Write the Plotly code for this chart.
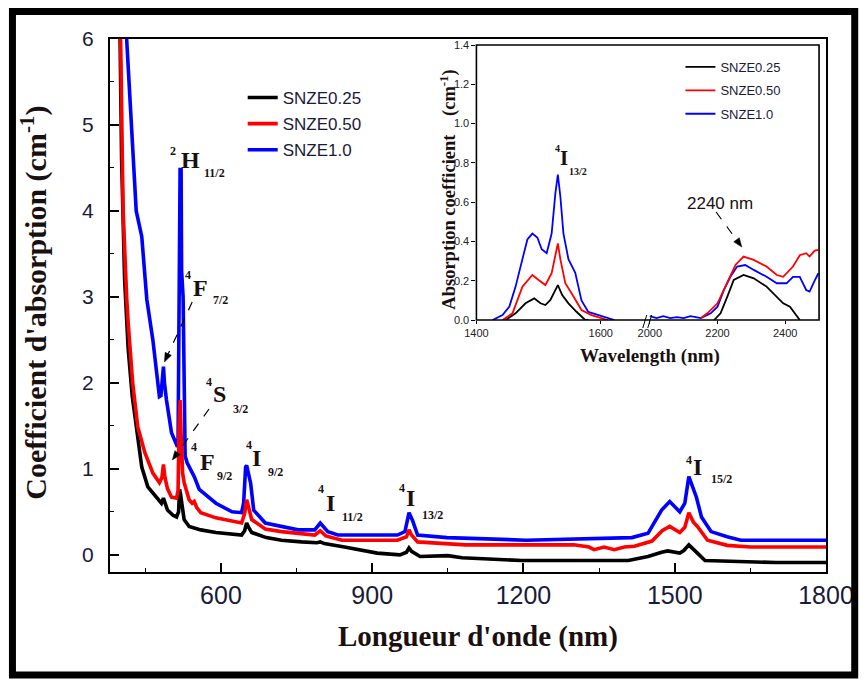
import plotly.graph_objects as go

# ---------------- main spectrum data (wavelength nm, absorption cm-1) ----------------
wl_black = [385, 395, 400, 403, 409, 416, 424, 433, 443, 455,
            472, 482, 486, 494, 505, 512, 516, 518, 520, 524,
            527, 537, 560, 590, 620, 641, 647, 651, 655, 661,
            690, 720, 760, 790, 797, 805, 845, 885, 910, 955,
            968, 973, 978, 995, 1050, 1078, 1196, 1408, 1447, 1474,
            1486, 1510, 1518, 1528, 1537, 1545, 1560, 1640, 1700, 1800]
ab_black = [8.0, 7.0, 6.0, 4.6, 3.2, 2.4, 1.85, 1.42, 1.02, 0.79,
            0.66, 0.60, 0.66, 0.52, 0.46, 0.44, 0.50, 0.76, 0.70, 0.48,
            0.41, 0.33, 0.29, 0.26, 0.24, 0.23, 0.28, 0.37, 0.32, 0.26,
            0.20, 0.17, 0.15, 0.14, 0.15, 0.13, 0.09, 0.05, 0.02, 0.00,
            0.03, 0.08, 0.04, -0.02, -0.01, -0.035, -0.066, -0.066, -0.02, 0.03,
            0.045, 0.02, 0.05, 0.116, 0.06, 0.02, -0.066, -0.08, -0.09, -0.09]

wl_red = [385, 395, 401, 404, 406, 413, 416, 425, 435, 449,
          465, 478, 483, 486, 489, 494, 502, 512, 515, 517,
          519, 521, 524, 527, 537, 543, 547, 552, 560, 590,
          620, 641, 647, 651, 655, 661, 688, 720, 786, 797,
          808, 840, 950, 968, 973, 978, 990, 1050, 1085, 1300,
          1330, 1340, 1360, 1380, 1400, 1420, 1455, 1475, 1490, 1510,
          1520, 1528, 1537, 1545, 1565, 1604, 1650, 1800]
ab_red = [8.0, 7.0, 6.0, 5.0, 4.0, 3.0, 2.7, 2.0, 1.49, 1.19,
          0.95, 0.84, 0.90, 1.05, 0.90, 0.77, 0.67, 0.66, 0.75, 1.50,
          1.80, 1.40, 0.95, 0.84, 0.64, 0.60, 0.62, 0.55, 0.49, 0.43,
          0.39, 0.37, 0.48, 0.64, 0.55, 0.41, 0.30, 0.27, 0.23, 0.28,
          0.22, 0.17, 0.17, 0.21, 0.29, 0.23, 0.15, 0.13, 0.116, 0.116,
          0.09, 0.06, 0.09, 0.06, 0.09, 0.10, 0.16, 0.28, 0.33, 0.26,
          0.32, 0.49, 0.38, 0.33, 0.17, 0.11, 0.09, 0.09]

wl_blue = [395, 405, 413, 418, 423, 427, 432, 443, 453, 465,
           474, 478, 481, 484, 486, 488, 492, 502, 512, 515,
           517, 519, 521, 522, 525, 527, 529, 533, 540, 547,
           557, 590, 622, 641, 645, 649, 651, 655, 659, 665,
           688, 753, 786, 797, 805, 812, 832, 950, 965, 973,
           980, 990, 1048, 1205, 1415, 1447, 1474, 1490, 1510, 1520,
           1528, 1543, 1553, 1572, 1604, 1631, 1800]
ab_blue = [9.0, 7.5, 6.0, 5.5, 5.0, 4.55, 4.0, 3.7, 2.97, 2.5,
           2.0, 1.84, 1.85, 2.15, 2.19, 2.0, 1.80, 1.42, 1.28, 1.30,
           3.5, 4.48, 4.48, 3.3, 3.0, 1.5, 1.15, 1.07, 1.0, 0.91,
           0.76, 0.60, 0.50, 0.49, 0.60, 1.02, 1.04, 0.95, 0.83, 0.52,
           0.37, 0.29, 0.29, 0.37, 0.32, 0.27, 0.23, 0.23, 0.27, 0.49,
           0.40, 0.23, 0.20, 0.17, 0.20, 0.25, 0.52, 0.62, 0.50, 0.60,
           0.91, 0.67, 0.44, 0.27, 0.21, 0.17, 0.17]

# ---------------- inset data: segment A (1400-1674 nm), segment B (1991-2500 nm) -------
in_wl_black_a = [1447, 1463, 1479, 1493, 1503, 1511, 1519, 1527, 1531, 1538, 1548, 1561, 1575, 1580]
in_ab_black_a = [0.0, 0.034, 0.085, 0.11, 0.085, 0.076, 0.102, 0.153, 0.178, 0.127, 0.085, 0.042, 0.0, 0.0]
in_wl_red_a = [1442, 1458, 1474, 1490, 1500, 1511, 1521, 1527, 1531, 1535, 1543, 1553, 1569, 1585, 1606, 1611]
in_ab_red_a = [0.0, 0.034, 0.17, 0.229, 0.204, 0.178, 0.238, 0.34, 0.39, 0.31, 0.187, 0.136, 0.051, 0.025, 0.008, 0.0]
in_wl_blue_a = [1426, 1442, 1453, 1463, 1474, 1482, 1490, 1498, 1505, 1513, 1521, 1527, 1531, 1535,
                1540, 1548, 1559, 1569, 1580, 1596, 1606, 1622]
in_ab_blue_a = [0.0, 0.025, 0.068, 0.17, 0.31, 0.41, 0.44, 0.42, 0.36, 0.34, 0.44, 0.645, 0.74, 0.63,
                0.44, 0.31, 0.24, 0.10, 0.041, 0.025, 0.017, 0.0]

in_wl_black_b = [2190, 2209, 2229, 2248, 2277, 2307, 2345, 2375, 2394, 2414, 2428, 2438, 2443]
in_ab_black_b = [0.0, 0.034, 0.119, 0.204, 0.229, 0.212, 0.17, 0.119, 0.085, 0.068, 0.034, 0.008, 0.0]
in_wl_red_b = [2151, 2170, 2200, 2229, 2253, 2277, 2307, 2345, 2375, 2394, 2423, 2443, 2462, 2472, 2487, 2498]
in_ab_red_b = [0.01, 0.034, 0.085, 0.187, 0.28, 0.323, 0.306, 0.272, 0.229, 0.22, 0.272, 0.33, 0.34, 0.323, 0.353, 0.357]
in_wl_blue_b = [2000, 2020, 2040, 2060, 2080, 2100, 2120, 2151, 2180, 2200, 2219, 2238, 2258, 2282,
                2307, 2345, 2375, 2404, 2423, 2443, 2462, 2472, 2487, 2498]
in_ab_blue_b = [0.02, 0.01, 0.02, 0.01, 0.015, 0.01, 0.02, 0.01, 0.034, 0.068, 0.153, 0.22, 0.272, 0.28,
                0.255, 0.22, 0.187, 0.187, 0.22, 0.22, 0.153, 0.145, 0.2, 0.238]

series_names = ["SNZE0.25", "SNZE0.50", "SNZE1.0"]
series_colors = ["#000000", "#ff0000", "#0000ff"]

main_xticks = [600, 900, 1200, 1500, 1800]
main_yticks = [0, 1, 2, 3, 4, 5, 6]
inset_xticks_a = [1400, 1600]
inset_xticks_b = [2000, 2200, 2400]
inset_yticks = [0.0, 0.2, 0.4, 0.6, 0.8, 1.0, 1.2, 1.4]

# ---------------- layout geometry (pixels) ----------------
W, H = 866, 684
L, R, T, B = 110, 833, 39, 572          # main plot area


def px(x):
    return (x - L) / (R - L)


def py(y):
    return (B - y) / (B - T)


IN_L, IN_BRK, IN_R, IN_T, IN_B = 480, 652, 826, 45, 320

SERIF = "Liberation Serif, Times New Roman, serif"
SANS = "Liberation Sans, Arial, sans-serif"

fig = go.Figure()

# draw order: blue, black, red (red on top as in the reference)
main_sets = [(wl_blue, ab_blue, 2), (wl_black, ab_black, 0), (wl_red, ab_red, 1)]
for xs, ys, k in main_sets:
    fig.add_trace(go.Scatter(
        x=xs, y=ys, mode="lines", name=series_names[k],
        line=dict(color=series_colors[k], width=3.6),
        legend="legend", legendrank=k + 1, legendgroup="m%d" % k,
        xaxis="x", yaxis="y", hoverinfo="skip"))

inset_sets = [
    (in_wl_blue_a, in_ab_blue_a, in_wl_blue_b, in_ab_blue_b, 2),
    (in_wl_black_a, in_ab_black_a, in_wl_black_b, in_ab_black_b, 0),
    (in_wl_red_a, in_ab_red_a, in_wl_red_b, in_ab_red_b, 1),
]
for xa, ya, xb, yb, k in inset_sets:
    fig.add_trace(go.Scatter(
        x=xa, y=ya, mode="lines", name=series_names[k],
        line=dict(color=series_colors[k], width=1.8),
        legend="legend2", legendrank=k + 1, legendgroup="i%d" % k,
        xaxis="x2", yaxis="y2", hoverinfo="skip"))
    fig.add_trace(go.Scatter(
        x=xb, y=yb, mode="lines", name=series_names[k], showlegend=False,
        line=dict(color=series_colors[k], width=1.8),
        legend="legend2", legendgroup="i%d" % k,
        xaxis="x3", yaxis="y3", hoverinfo="skip"))

axis_common = dict(showgrid=False, zeroline=False, linecolor="black")

fig.update_layout(
    width=W, height=H,
    margin=dict(l=L, r=W - R, t=T, b=H - B, pad=0),
    paper_bgcolor="white", plot_bgcolor="white",
    showlegend=True,
    xaxis=dict(axis_common, domain=[0, 1], range=[380, 1800], tickvals=main_xticks,
               ticks="inside", ticklen=9, tickwidth=1.5, tickcolor="black",
               minor=dict(dtick=150, tick0=0, ticks="inside", ticklen=4, tickwidth=1.2, tickcolor="black"),
               showline=True, linewidth=2, mirror=True,
               tickfont=dict(family=SANS, size=25, color="#1a1a3a"), ticklabelstandoff=0),
    yaxis=dict(axis_common, domain=[0, 1], range=[-0.2, 6], tickvals=main_yticks,
               ticks="inside", ticklen=9, tickwidth=1.5, tickcolor="black",
               minor=dict(dtick=0.5, tick0=0, ticks="inside", ticklen=4, tickwidth=1.2, tickcolor="black"),
               showline=True, linewidth=2, mirror=True,
               tickfont=dict(family=SANS, size=21, color="#1a1a3a"), ticklabelstandoff=10),
    xaxis2=dict(axis_common, domain=[px(IN_L), px(IN_BRK)], range=[1400, 1674], anchor="y2",
                tickvals=inset_xticks_a, ticks="outside", ticklen=3, tickcolor="black",
                showline=False, tickfont=dict(family=SANS, size=11, color="#222")),
    xaxis3=dict(axis_common, domain=[px(IN_BRK), px(IN_R)], range=[1991, 2500], anchor="y3",
                tickvals=inset_xticks_b, ticks="outside", ticklen=3, tickcolor="black",
                showline=False, tickfont=dict(family=SANS, size=11, color="#222")),
    yaxis2=dict(axis_common, domain=[py(IN_B), py(IN_T)], range=[0, 1.4], anchor="x2",
                tickvals=inset_yticks, tickformat=".1f", ticks="outside", ticklen=4, tickcolor="black",
                showline=False, tickfont=dict(family=SANS, size=11, color="#222")),
    yaxis3=dict(axis_common, domain=[py(IN_B), py(IN_T)], range=[0, 1.4], anchor="x3",
                showticklabels=False, ticks="", showline=False),
    legend=dict(x=px(244), y=py(80), xanchor="left", yanchor="top",
                bgcolor="rgba(0,0,0,0)", borderwidth=0, tracegroupgap=1,
                font=dict(family=SANS, size=17, color="#1a1a3a")),
    legend2=dict(x=px(686), y=py(52), xanchor="left", yanchor="top",
                 bgcolor="rgba(0,0,0,0)", borderwidth=0, tracegroupgap=3.5,
                 font=dict(family=SANS, size=13, color="#1a1a3a")),
)

shapes = []
# outer thick border
shapes.append(dict(type="rect", xref="paper", yref="paper",
                   x0=px(11.5), x1=px(862), y0=py(675), y1=py(11.5),
                   line=dict(color="black", width=7), fillcolor="rgba(0,0,0,0)", layer="above"))
# inset frame
shapes.append(dict(type="rect", xref="paper", yref="paper",
                   x0=px(IN_L), x1=px(IN_R), y0=py(IN_B), y1=py(IN_T),
                   line=dict(color="black", width=1.6), layer="above"))
# axis-break marks
for dx in (0, 5):
    shapes.append(dict(type="line", xref="paper", yref="paper",
                       x0=px(648 + dx), y0=py(328), x1=px(652 + dx), y1=py(315),
                       line=dict(color="black", width=1)))

annotations = []


def ann(text, x, y, size, family=SERIF, bold=True, **kw):
    t = "<b>%s</b>" % text if bold else text
    d = dict(text=t, x=px(x), y=py(y), xref="paper", yref="paper",
             xanchor="center", yanchor="middle", showarrow=False,
             font=dict(family=family, size=size, color="#1a1010"))
    d.update(kw)
    annotations.append(d)


def term(sup, letter, sub, xs, ys, xl, yl, xb, yb, big=24, small=12):
    ann(sup, xs, ys, small)
    ann(letter, xl, yl, big)
    ann(sub, xb, yb, small)


term("2", "H", "11/2", 174, 151, 191, 160, 216, 173)
term("4", "F", "7/2", 189, 275, 201, 288, 222, 300)
term("4", "S", "3/2", 210, 382, 221, 394, 242, 409)
term("4", "F", "9/2", 195, 447, 208, 462, 226, 476)
term("4", "I", "9/2", 250, 445, 258, 458, 277, 472)
term("4", "I", "11/2", 323, 489, 333, 503, 355, 517)
term("4", "I", "13/2", 405, 488, 413, 498, 436, 515)
term("4", "I", "15/2", 695, 460, 703, 467, 727, 479)
# inset term label
term("4", "I", "13/2", 562, 148, 568, 158, 583, 171, big=21, small=10)

ann("2240 nm", 726, 203, 17, family=SANS, bold=False)

# axis titles
ann("Longueur d'onde (nm)", 482, 636, 29)
ann("Coefficient d'absorption (cm<sup>-1</sup>)", 33, 303, 30, textangle=-90)
ann("Wavelength (nm)", 655, 356, 19)
ann("Absorption coefficient\u00a0\u00a0\u00a0\u00a0(cm<sup>-1</sup>)", 451, 190, 18.5, textangle=-90)


def dashed_arrow(x0, y0, x1, y1, head=9.0, half=3.5):
    dx, dy = x1 - x0, y1 - y0
    n = (dx * dx + dy * dy) ** 0.5
    ux, uy = dx / n, dy / n
    bx, by = x1 - ux * head, y1 - uy * head
    shapes.append(dict(type="line", xref="paper", yref="paper",
                       x0=px(x0), y0=py(y0), x1=px(bx), y1=py(by),
                       line=dict(color="black", width=1.2, dash="dash")))
    qx, qy = -uy * half, ux * half
    path = "M %.5f %.5f L %.5f %.5f L %.5f %.5f Z" % (
        px(x1), py(y1), px(bx + qx), py(by + qy), px(bx - qx), py(by - qy))
    shapes.append(dict(type="path", xref="paper", yref="paper", path=path,
                       fillcolor="black", line=dict(color="black", width=0.5)))


dashed_arrow(193, 302, 165, 362)
dashed_arrow(210, 409, 173, 460)
dashed_arrow(722, 212, 748, 247)

fig.update_layout(shapes=shapes, annotations=annotations)

fig.write_html("out.html")
